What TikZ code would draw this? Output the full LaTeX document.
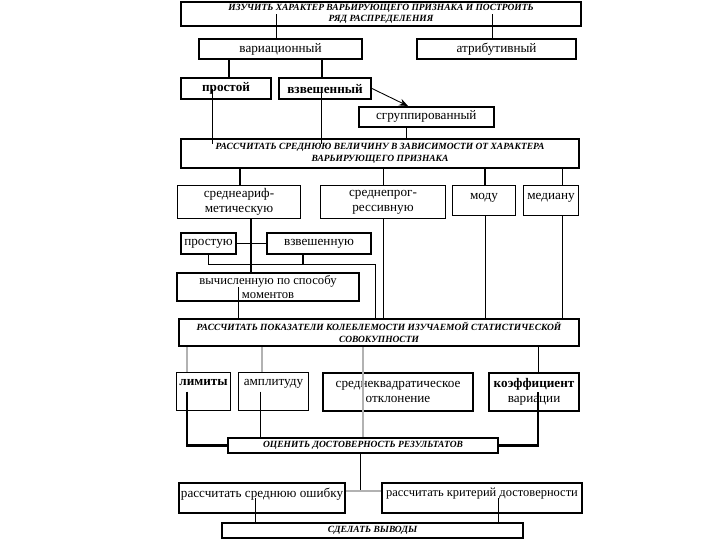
\documentclass[tikz,border=0pt]{standalone}
\usepackage{fontspec}
\setmainfont{Liberation Serif}
\usetikzlibrary{arrows.meta,calc}

\begin{document}
\begin{tikzpicture}[
  x=0.02cm, y=-0.02cm,
  box/.style={draw, line width=1.2pt, anchor=north west, inner sep=1pt, align=center, font=\fontsize{7.5}{8.5}\selectfont},
  tbox/.style={box, line width=0.6pt},
  bbox/.style={box, font=\fontsize{7.5}{8.5}\selectfont\bfseries},
  head/.style={box, font=\fontsize{5.4}{6.5}\selectfont\bfseries\itshape},
  hi/.style={text depth=#1},
  ln/.style={line width=0.5pt},
  tk/.style={line width=1.2pt},
  gr/.style={line width=1.4pt, gray!60},
]
\useasboundingbox (0,0) rectangle (720,540);

% rows of boxes
\node[head, minimum width=8cm, minimum height=0.48cm] (study) at (180,1) {ИЗУЧИТЬ ХАРАКТЕР ВАРЬИРУЮЩЕГО ПРИЗНАКА И ПОСТРОИТЬ\\РЯД РАСПРЕДЕЛЕНИЯ};
\node[box, minimum width=3.26cm, minimum height=0.4cm] (variat) at (198,38) {вариационный};
\node[box, minimum width=3.18cm, minimum height=0.4cm] (attrib) at (416,38) {атрибутивный};
\node[bbox, minimum width=1.8cm, minimum height=0.42cm] (simple) at (180,77) {простой};
\node[bbox, minimum width=1.84cm, minimum height=0.42cm] (weighted) at (278,77) {взвешенный};
\node[box, line width=0.9pt, minimum width=2.7cm, minimum height=0.4cm] (grouped) at (358,106) {сгруппированный};
\node[head, minimum width=7.96cm, minimum height=0.58cm] (mean) at (180,138) {РАССЧИТАТЬ СРЕДНЮЮ ВЕЛИЧИНУ В ЗАВИСИМОСТИ ОТ ХАРАКТЕРА\\ВАРЬИРУЮЩЕГО ПРИЗНАКА};

\node[tbox, minimum width=2.46cm, minimum height=0.66cm] (arith) at (177,185) {среднеариф-\\метическую};
\node[tbox, minimum width=2.5cm, minimum height=0.66cm] (progr) at (320,185) {среднепрог-\\рессивную};
\node[tbox, hi=0.16cm, minimum width=1.26cm, minimum height=0.6cm] (mode) at (452,185) {моду};
\node[tbox, hi=0.16cm, minimum width=1.1cm, minimum height=0.6cm] (median) at (523,185) {медиану};
\node[box, minimum width=1.1cm, minimum height=0.42cm] (simpleu) at (180,232) {простую};
\node[box, minimum width=2.08cm, minimum height=0.42cm] (weightedu) at (266,232) {взвешенную};
\node[box, font=\fontsize{7.2}{8}\selectfont, minimum width=3.64cm, minimum height=0.56cm] (moments) at (176,272) {вычисленную по способу\\моментов};
\node[head, minimum width=8cm, minimum height=0.54cm] (spread) at (178,318) {РАССЧИТАТЬ ПОКАЗАТЕЛИ КОЛЕБЛЕМОСТИ ИЗУЧАЕМОЙ СТАТИСТИЧЕСКОЙ\\СОВОКУПНОСТИ};

\node[tbox, hi=0.38cm, font=\fontsize{7.5}{8.5}\selectfont\bfseries, minimum width=1.08cm, minimum height=0.76cm] (limits) at (176,372) {лимиты};
\node[tbox, hi=0.38cm, minimum width=1.4cm, minimum height=0.76cm] (ampl) at (238,372) {амплитуду};
\node[box, minimum width=3cm, minimum height=0.76cm] (sko) at (322,372) {среднеквадратическое\\отклонение};
\node[box, minimum width=1.8cm, minimum height=0.76cm] (coef) at (488,372) {\textbf{коэффициент}\\вариации};
\node[head, minimum width=5.4cm, minimum height=0.3cm] (assess) at (227,437) {ОЦЕНИТЬ ДОСТОВЕРНОСТЬ РЕЗУЛЬТАТОВ};
\node[box, hi=0.22cm, minimum width=3.32cm, minimum height=0.6cm] (err) at (178,482) {рассчитать среднюю ошибку};
\node[box, hi=0.22cm, font=\fontsize{7.1}{8}\selectfont, minimum width=4cm, minimum height=0.6cm] (crit) at (381,482) {рассчитать критерий достоверности};
\node[head, minimum width=6.02cm, minimum height=0.3cm] (concl) at (221,522) {СДЕЛАТЬ ВЫВОДЫ};

% connectors
\draw[ln] (study.center -| 276,0) -- (variat.north -| 276,0);
\draw[ln] (study.center -| 492,0) -- (attrib.north -| 492,0);
\draw[tk] (variat.south -| 229,0) -- (simple.north -| 229,0);
\draw[tk] (variat.south -| 322,0) -- (weighted.north -| 322,0);
\draw[ln, -{Stealth[length=5pt, width=4pt]}] (weighted.east) -- (grouped.north -| 408,0);
\draw[ln] (simple.center -| 212,0) -- ($(mean.north -| 212,0)+(0,6)$);
\draw[ln] (weighted.center -| 321,0) -- ($(mean.north -| 321,0)+(0,6)$);
\draw[ln] (grouped.south -| 406,0) -- (mean.north -| 406,0);

\draw[tk] (mean.south -| 240,0) -- (arith.north -| 240,0);
\draw[ln] (mean.south -| 383,0) -- (progr.north -| 383,0);
\draw[tk] (mean.south -| 485,0) -- (mode.north -| 485,0);
\draw[ln] (mean.south -| 562,0) -- (median.north -| 562,0);

\draw[tk] (arith.south -| 251,0) -- (moments.north -| 251,0);
\draw[ln] (simpleu.east) -- (weightedu.west);
\draw[ln] (simpleu.south -| 208,0) -- ++(0,9) -| (spread.north -| 375,0);
\draw[line width=0.8pt] (weightedu.south -| 303,0) -- ++(0,9);
\draw[ln] (progr.south -| 383,0) -- (spread.north -| 383,0);
\draw[ln] (mode.south -| 485,0) -- (spread.north -| 485,0);
\draw[ln] (median.south -| 562,0) -- (spread.north -| 562,0);
\draw[ln] (moments.center -| 238,0) -- (spread.north -| 238,0);

\draw[gr] (spread.south -| 187,0) -- (limits.north -| 187,0);
\draw[gr] (spread.south -| 262,0) -- (ampl.north -| 262,0);
\draw[gr] (spread.south -| 363,0) -- (assess.north -| 363,0);
\draw[ln] (spread.south -| 538,0) -- (coef.north -| 538,0);
\draw[tk] (limits.center -| 187,0) |- (assess.west);
\draw[ln] (ampl.center -| 260,0) -- (assess.north -| 260,0);
\draw[tk] (coef.center -| 538,0) |- (assess.east);

\draw[ln] (assess.south -| 360,0) -- ($(err.east -| 360,0)+(0,-7)$);
\draw[gr] ($(err.east)+(0,-7)$) -- ($(crit.west)+(0,-7)$);
\draw[ln] (err.center -| 255,0) -- (concl.north -| 255,0);
\draw[ln] (crit.center -| 498,0) -- (concl.north -| 498,0);
\end{tikzpicture}
\end{document}
